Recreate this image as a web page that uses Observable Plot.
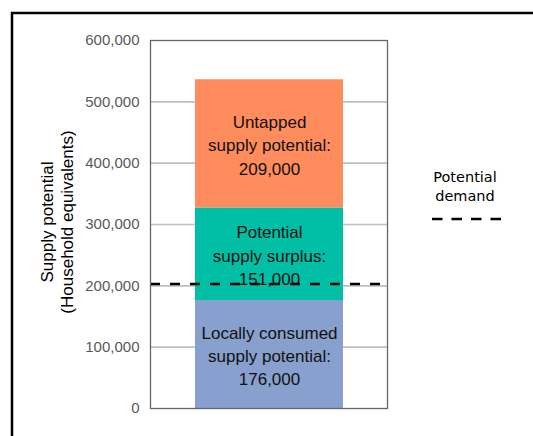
<!DOCTYPE html>
<html>
<head>
<meta charset="utf-8">
<script src="https://cdn.jsdelivr.net/npm/d3@7"></script>
<script src="https://cdn.jsdelivr.net/npm/@observablehq/plot@0.6"></script>
<style>
  html, body { margin: 0; padding: 0; background: #fff; }
  #chart { width: 533px; height: 436px; overflow: hidden; }
</style>
</head>
<body>
<div id="chart"></div>
<script>
// ---- data ----
const categories = ["Locally consumed supply potential", "Potential supply surplus", "Untapped supply potential"];
const values = [176000, 151000, 209000];
const segmentLabels = [
  "Locally consumed\nsupply potential:\n176,000",
  "Potential\nsupply surplus:\n151,000",
  "Untapped\nsupply potential:\n209,000"
];
const colors = ["#87a0cd", "#00bfa5", "#ff8c5c"];
const demand = [203000];
const yTicks = [0, 100000, 200000, 300000, 400000, 500000, 600000];
const gridTicks = [100000, 200000, 300000, 400000, 500000];
const yTitle = ["Supply potential", "(Household equivalents)"];
const legendLabel = ["Potential", "demand"];

const data = categories.map((c, i) => ({ bar: "Supply", category: c, value: values[i], label: segmentLabels[i] }));

const font = "'Liberation Sans', Arial, sans-serif";

const plot = Plot.plot({
  width: 533,
  height: 436,
  marginLeft: 150,
  marginRight: 146,
  marginTop: 40,
  marginBottom: 28,
  style: { fontFamily: font, fontSize: "15px", color: "#595959", background: "transparent" },
  x: { axis: null, padding: 0.231 },
  y: { domain: [0, 600000], axis: null },
  color: { domain: categories, range: colors },
  marks: [
    Plot.gridY(gridTicks, { stroke: "#c0c0c0", strokeOpacity: 1, strokeWidth: 1.6 }),
    Plot.barY(data, { x: "bar", y: "value", fill: "category" }),
    Plot.text(data, Plot.stackY({ x: "bar", y: "value", text: "label", fill: "#111", fontSize: 17, lineHeight: 1.38, fontFamily: font })),
    Plot.ruleY(demand, { stroke: "#000", strokeWidth: 2.5, strokeDasharray: "10,10" }),
    Plot.frame({ stroke: "#666", strokeWidth: 1.3 }),
    Plot.axisY({ ticks: yTicks, tickSize: 0, tickPadding: 11, tickFormat: d3.format(","), fill: "#595959", fontSize: 15, label: null })
  ]
});

const svg = d3.select(plot);

// outer figure border
svg.insert("rect", ":first-child")
  .attr("x", 12).attr("y", 13).attr("width", 700).attr("height", 600)
  .attr("fill", "none").attr("stroke", "#000").attr("stroke-width", 2.5);

// y-axis title (two lines, rotated)
const t = svg.append("text")
  .attr("transform", "translate(57,222) rotate(-90)")
  .attr("text-anchor", "middle")
  .attr("font-family", font)
  .attr("font-size", 17)
  .attr("fill", "#000");
t.append("tspan").attr("x", 0).attr("y", -4).text(yTitle[0]);
t.append("tspan").attr("x", 0).attr("y", 16).text(yTitle[1]);

// legend
const lg = svg.append("g").attr("font-family", "'DejaVu Sans', Verdana, sans-serif").attr("font-size", 14.5).attr("fill", "#000");
lg.append("text").attr("x", 465).attr("y", 182).attr("text-anchor", "middle").text(legendLabel[0]);
lg.append("text").attr("x", 465).attr("y", 201).attr("text-anchor", "middle").text(legendLabel[1]);
lg.append("line").attr("x1", 432).attr("x2", 507).attr("y1", 219).attr("y2", 219)
  .attr("stroke", "#000").attr("stroke-width", 2.5).attr("stroke-dasharray", "10.5,9");

document.getElementById("chart").appendChild(plot);
</script>
</body>
</html>
